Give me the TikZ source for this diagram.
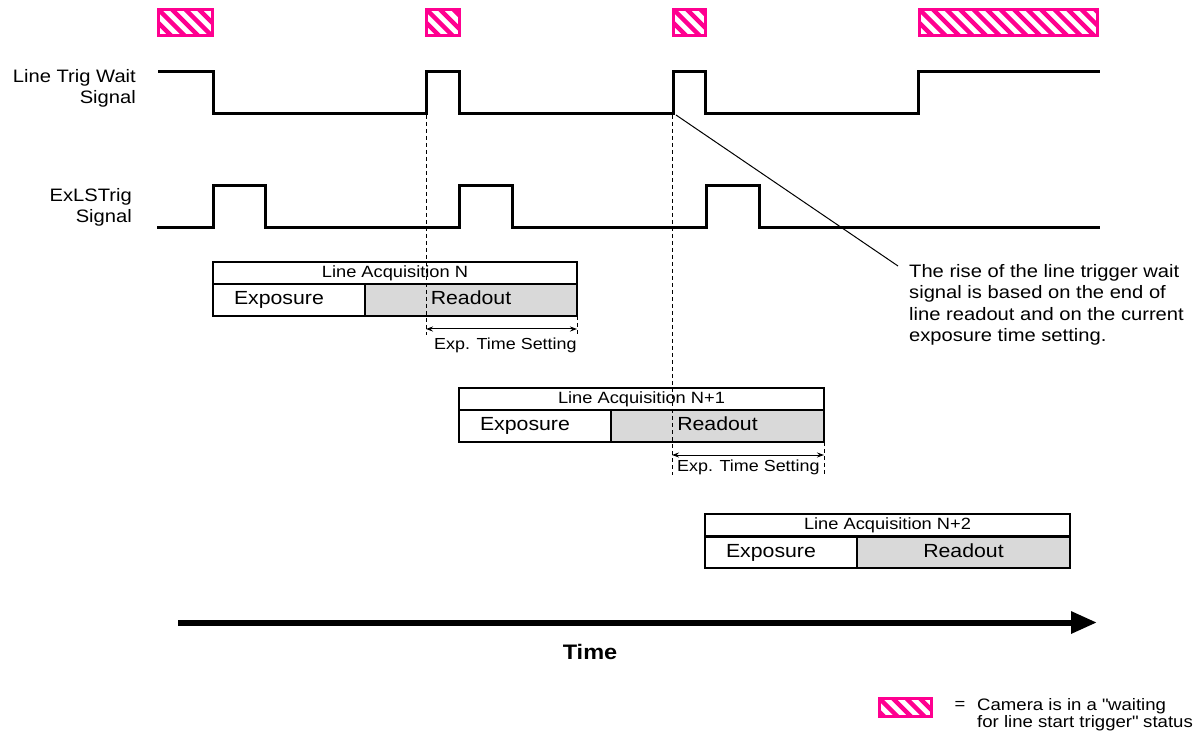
\documentclass[tikz,border=0pt]{standalone}
\usepackage{fontspec}
\setmainfont[FakeStretch=1.12]{Liberation Sans}
\usetikzlibrary{arrows.meta}
\definecolor{mag}{HTML}{FF0090}
\definecolor{readgray}{HTML}{D9D9D9}
\begin{document}
\begin{tikzpicture}[x=1pt,y=-1pt,
  sig/.style={line width=3pt, line join=miter},
  hatch/.style={draw=mag, line width=3pt, inner sep=0pt, outer sep=0pt, anchor=north west,
    path picture={\foreach \k in {-3,...,16}{\draw[mag,line width=4.5pt]
      ([xshift=\k*13.5pt-6pt, yshift=6pt]path picture bounding box.north west) -- ++(48pt,-48pt);}}},
  cell/.style={draw, line width=1.3pt, inner sep=0pt, outer sep=0pt, anchor=north west},
  titlecell/.style={cell, minimum width=364pt, minimum height=22pt, font=\fontsize{16.3}{18}\selectfont},
  expocell/.style={cell, minimum height=32pt, text width=110pt, inner xsep=21pt, align=left,
    text height=13.5pt, text depth=4pt, font=\fontsize{19}{22}\selectfont},
  readcell/.style={cell, fill=readgray, minimum width=212pt, minimum height=32pt,
    text height=13.5pt, text depth=4pt, font=\fontsize{19}{22}\selectfont},
  guide/.style={line width=0.8pt, dash pattern=on 4pt off 3pt},
  span/.style={line width=1pt, {Stealth[length=7pt,width=5pt]}-{Stealth[length=7pt,width=5pt]}},
  exptext/.style={inner sep=0pt, font=\fontsize{16}{18}\selectfont},
  siglabel/.style={inner sep=0pt, anchor=north east, align=right, font=\fontsize{18}{21}\selectfont},
]
\useasboundingbox (0,0) rectangle (1200,735);

% waiting-status hatched boxes
\node[hatch, minimum width=54pt, minimum height=26pt] (h1) at (158.5,9.5) {};
\node[hatch, minimum width=33pt, minimum height=26pt] (h2) at (426.5,9.5) {};
\node[hatch, minimum width=32pt, minimum height=26pt] (h3) at (673.5,9.5) {};
\node[hatch, minimum width=178pt, minimum height=26pt] (h4) at (919.5,9.5) {};

% signal labels
\node[siglabel] (lbl1) at (136,69) {Line Trig Wait\\Signal};
\node[siglabel] (lbl2) at (132,188) {ExLSTrig\\Signal};

% signals
\draw[sig] (158,72) -- (213,72) -- (213,114) -- (426,114) -- (426,72) -- (459,72) -- (459,114)
  -- (673,114) -- (673,72) -- (705,72) -- (705,114) -- (918,114) -- (918,72) -- (1100,72);
\draw[sig] (157,228) -- (213,228) -- (213,186) -- (265,186) -- (265,228) -- (459,228) -- (459,186)
  -- (512,186) -- (512,228) -- (706,228) -- (706,186) -- (759,186) -- (759,228) -- (1100,228);

% acquisition N
\node[titlecell] (tN) at (213,262) {Line Acquisition N};
\node[expocell] (eN) at (213,284) {Exposure};
\node[readcell] (rN) at (365,284) {Readout};
% acquisition N+1
\node[titlecell, minimum width=365pt] (tN1) at (459,388) {Line Acquisition N+1};
\node[expocell] (eN1) at (459,410) {Exposure};
\node[readcell, minimum width=213pt] (rN1) at (611,410) {Readout};
% acquisition N+2
\node[titlecell, minimum width=365pt] (tN2) at (705,514) {Line Acquisition N+2};
\node[expocell, minimum height=31pt] (eN2) at (705,537) {Exposure};
\node[readcell, minimum width=213pt, minimum height=31pt] (rN2) at (857,537) {Readout};

% guide coordinates
\coordinate (rise1) at (426,115);
\coordinate (g1b) at (426,335);
\coordinate (g1r) at (577,316);
\coordinate (g1rb) at (577,335);
\coordinate (a1l) at (426,329);
\coordinate (a1r) at (577,329);
\coordinate (rise2) at (672,115);
\coordinate (g2b) at (672,475);
\coordinate (g2r) at (824,442);
\coordinate (g2rb) at (824,475);
\coordinate (a2l) at (672,455);
\coordinate (a2r) at (824,455);

\draw[guide] (rise1) -- (g1b);
\draw[guide] (g1r) -- (g1rb);
\draw[span] (a1l) -- (a1r);
\node[exptext, anchor=west] (x1) at (434,345) {Exp. Time Setting};

\draw[guide] (rise2) -- (g2b);
\draw[guide] (g2r) -- (g2rb);
\draw[span] (a2l) -- (a2r);
\node[exptext, anchor=west] (x2) at (677,467) {Exp. Time Setting};

% callout
\coordinate (c0) at (676,115);
\coordinate (c1) at (898,266);
\draw[line width=1pt] (c0) -- (c1);
\node[inner sep=0pt, anchor=north west, align=left, font=\fontsize{18}{21.5}\selectfont] (note) at (909,264)
  {The rise of the line trigger wait\\signal is based on the end of\\line readout and on the current\\exposure time setting.};

% time axis
\coordinate (t0) at (178,622.5);
\coordinate (t1) at (1097,622.5);
\draw[line width=6pt, -{Triangle[length=26pt,width=21pt]}] (t0) -- (t1);
\node[inner sep=0pt, font=\fontsize{21}{24}\selectfont\bfseries] (time) at (590,652) {Time};

% legend
\node[hatch, minimum width=52pt, minimum height=18pt] (leg) at (879.5,698.5) {};
\node[inner sep=0pt, font=\fontsize{16.4}{18}\selectfont] (eq) at (960,705) {=};
\node[inner sep=0pt, anchor=north west, align=left, font=\fontsize{16.6}{17.5}\selectfont] (legtext) at (977,698)
  {Camera is in a \textquotedbl waiting\\for line start trigger\textquotedbl{} status};
\end{tikzpicture}
\end{document}
